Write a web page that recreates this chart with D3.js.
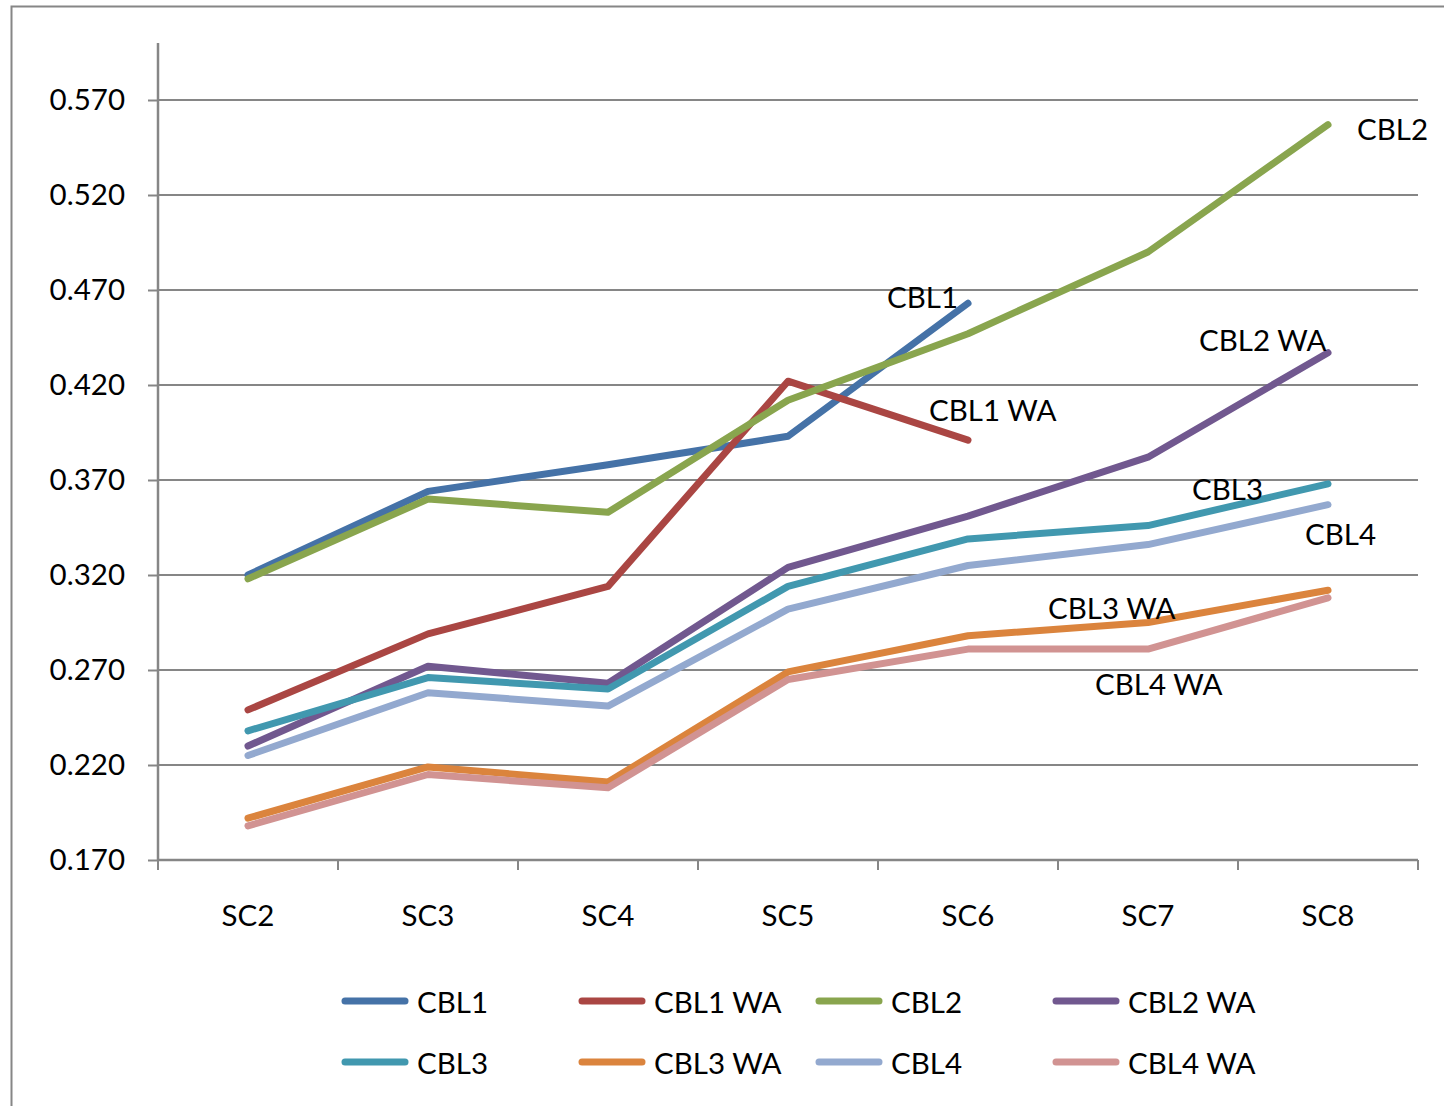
<!DOCTYPE html>
<html>
<head>
<meta charset="utf-8">
<script src="https://cdn.jsdelivr.net/npm/d3@7"></script>
<style>
  html, body { margin: 0; padding: 0; background: #ffffff; }
  svg { display: block; }
  text { font-family: Lato, "Open Sans", "DejaVu Sans", sans-serif; fill: #000; }
</style>
</head>
<body>
<svg id="chart" width="1444" height="1106"></svg>
<script>
// Categories along the x axis
const categories = ["SC2", "SC3", "SC4", "SC5", "SC6", "SC7", "SC8"];

// Series values (null = no reading for that scenario)
const cbl1   = [0.320, 0.364, 0.378, 0.393, 0.463, null, null];
const cbl1WA = [0.249, 0.289, 0.314, 0.422, 0.391, null, null];
const cbl2   = [0.318, 0.360, 0.353, 0.412, 0.447, 0.490, 0.557];
const cbl2WA = [0.230, 0.272, 0.263, 0.324, 0.351, 0.382, 0.437];
const cbl3   = [0.238, 0.266, 0.260, 0.314, 0.339, 0.346, 0.368];
const cbl3WA = [0.192, 0.219, 0.211, 0.269, 0.288, 0.295, 0.312];
const cbl4   = [0.225, 0.258, 0.251, 0.302, 0.325, 0.336, 0.357];
const cbl4WA = [0.188, 0.215, 0.208, 0.265, 0.281, 0.281, 0.308];

const seriesNames = ["CBL1", "CBL1 WA", "CBL2", "CBL2 WA", "CBL3", "CBL3 WA", "CBL4", "CBL4 WA"];
const seriesValues = [cbl1, cbl1WA, cbl2, cbl2WA, cbl3, cbl3WA, cbl4, cbl4WA];

// Y axis tick labels
const yTicks = [0.170, 0.220, 0.270, 0.320, 0.370, 0.420, 0.470, 0.520, 0.570];

const colors = ["#4572A7", "#AA4643", "#89A54E", "#71588F", "#4198AF", "#DB843D", "#93A9CF", "#D19392"];

// Name tags placed near the last point of each line (offset in px from that point)
const tagOffsets = [
  [-81, -7],   // CBL1
  [-39, -31],  // CBL1 WA
  [29, 4],     // CBL2
  [-129, -13], // CBL2 WA
  [-136, 5],   // CBL3
  [-280, 17],  // CBL3 WA
  [-23, 29],   // CBL4
  [-233, 86]   // CBL4 WA
];

const svg = d3.select("#chart");
const W = 1444, H = 1106;
const plot = { left: 158, right: 1418, top: 43, bottom: 860 };
const gridColor = "#868686";
const fontSize = 29.5;

// Outer chart frame
svg.append("rect")
  .attr("x", 11.5).attr("y", 6.5)
  .attr("width", W + 20).attr("height", H + 20)
  .attr("fill", "none").attr("stroke", gridColor).attr("stroke-width", 2);

const x = d3.scaleBand().domain(categories).range([plot.left, plot.right]).padding(0);
const y = d3.scaleLinear().domain([0.17, 0.60]).range([plot.bottom, plot.top]);
const cx = c => x(c) + x.bandwidth() / 2;

// Horizontal gridlines
svg.append("g")
  .selectAll("line")
  .data(yTicks.slice(1))
  .join("line")
  .attr("x1", plot.left).attr("x2", plot.right)
  .attr("y1", d => y(d)).attr("y2", d => y(d))
  .attr("stroke", gridColor).attr("stroke-width", 2);

// Y axis
const yAxis = svg.append("g")
  .attr("transform", `translate(${plot.left},0)`)
  .call(d3.axisLeft(y).tickValues(yTicks).tickFormat(d3.format(".3f")).tickSize(10).tickPadding(23));
yAxis.select(".domain").attr("stroke", gridColor).attr("stroke-width", 2.5)
  .attr("d", `M0,${plot.top}V${plot.bottom}`);
yAxis.selectAll(".tick line").attr("stroke", gridColor).attr("stroke-width", 2);
yAxis.selectAll(".tick text")
  .attr("font-size", fontSize).attr("fill", "#000")
  .style("font-family", "Lato, 'Open Sans', sans-serif");

// X axis
const xAxis = svg.append("g")
  .attr("transform", `translate(0,${plot.bottom})`)
  .call(d3.axisBottom(x).tickSize(0).tickPadding(45));
xAxis.select(".domain").attr("stroke", gridColor).attr("stroke-width", 2.5)
  .attr("d", `M${plot.left},0H${plot.right}`);
xAxis.selectAll(".tick text")
  .attr("font-size", fontSize).attr("fill", "#000")
  .style("font-family", "Lato, 'Open Sans', sans-serif");
// Category boundary tick marks
const bounds = categories.map(c => x(c)).concat([plot.right]);
svg.append("g")
  .selectAll("line")
  .data(bounds)
  .join("line")
  .attr("x1", d => d).attr("x2", d => d)
  .attr("y1", plot.bottom).attr("y2", plot.bottom + 10)
  .attr("stroke", gridColor).attr("stroke-width", 2);

// Lines
const line = d3.line()
  .defined(d => d.v !== null)
  .x(d => cx(d.c))
  .y(d => y(d.v));

const series = seriesNames.map((name, i) => ({
  name,
  color: colors[i],
  points: categories.map((c, j) => ({ c, v: seriesValues[i][j] }))
}));

svg.append("g")
  .selectAll("path")
  .data(series)
  .join("path")
  .attr("d", d => line(d.points))
  .attr("fill", "none")
  .attr("stroke", d => d.color)
  .attr("stroke-width", 7)
  .attr("stroke-linecap", "round")
  .attr("stroke-linejoin", "round");

// Name tags next to line ends
svg.append("g")
  .selectAll("text")
  .data(series)
  .join("text")
  .attr("x", (d, i) => {
    const last = d.points.filter(p => p.v !== null).pop();
    return cx(last.c) + tagOffsets[i][0];
  })
  .attr("y", (d, i) => {
    const last = d.points.filter(p => p.v !== null).pop();
    return y(last.v) + tagOffsets[i][1];
  })
  .attr("dominant-baseline", "central")
  .attr("font-size", fontSize)
  .text(d => d.name);

// Legend: 4 columns x 2 rows
const legend = svg.append("g");
const legCol0 = 342, legColStep = 237, legRow0 = 1001, legRowStep = 61;
series.forEach((s, i) => {
  const col = i % 4, row = Math.floor(i / 4);
  const lx = legCol0 + col * legColStep;
  const ly = legRow0 + row * legRowStep;
  legend.append("line")
    .attr("x1", lx + 3).attr("x2", lx + 63)
    .attr("y1", ly).attr("y2", ly)
    .attr("stroke", s.color).attr("stroke-width", 7)
    .attr("stroke-linecap", "round");
  legend.append("text")
    .attr("x", lx + 75).attr("y", ly)
    .attr("dominant-baseline", "central")
    .attr("font-size", fontSize)
    .text(s.name);
});
</script>
</body>
</html>
